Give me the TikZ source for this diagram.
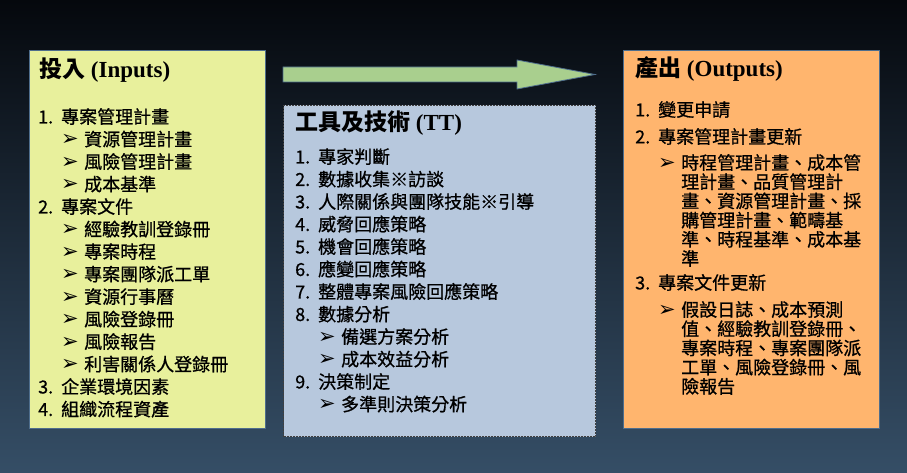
\documentclass[tikz,border=0pt]{standalone}
\usepackage{fontspec}
\setmainfont{Liberation Serif}
\newfontfamily\cjk[FakeBold=0.8]{Noto Sans CJK TC}
\newfontfamily\cjktitle{Noto Sans CJK TC}
\newfontfamily\symfont{DejaVu Sans}

\definecolor{bgtop}{HTML}{05080D}
\definecolor{bgbottom}{HTML}{354E66}
\definecolor{infill}{HTML}{E8F09C}
\definecolor{ttfill}{HTML}{B7C8DD}
\definecolor{outfill}{HTML}{FFB56E}
\definecolor{arrowfill}{HTML}{A9CF8E}
\definecolor{boxline}{HTML}{4E6D8C}

\newcommand{\nr}[1]{\makebox[23pt][l]{#1}}
\newcommand{\subarrow}{\hspace*{23pt}\makebox[23pt][l]{\symfont\fontsize{21}{21}\selectfont ➢}}
\newcommand{\wrapind}{\hspace*{46pt}}

\begin{document}
\begin{tikzpicture}[x=1pt,y=-1pt,
    box/.style={draw=boxline,line width=1.2pt,anchor=north west,inner sep=0pt},
    body/.style={anchor=north west,align=left,inner sep=0pt,font=\cjk\fontsize{18}{22.5}\selectfont},
    title/.style={anchor=west,inner sep=0pt,font=\fontsize{23}{26}\selectfont\bfseries}]
    \useasboundingbox (0,0) rectangle (907,473);
    \fill[top color=bgtop,bottom color=bgbottom] (0,0) rectangle (907,473);

    %boxes
    \node[box,fill=infill,minimum width=236pt,minimum height=378pt] (inputs) at (29,50) {};
    \node[box,fill=ttfill,draw=black!75,line width=1pt,dash pattern=on 2pt off 1pt,
        minimum width=312pt,minimum height=331pt] (tt) at (283,105) {};
    \node[box,fill=outfill,minimum width=256pt,minimum height=378pt] (outputs) at (623,50) {};

    %arrow
    \filldraw[fill=arrowfill,draw=boxline,line width=0.8pt]
        (283,67) -- (517,67) -- (517,60) -- (595,74.5) -- (517,89) -- (517,82) -- (283,82) -- cycle;

    %titles
    \node[title] (intitle) at (39,70) {{\cjktitle 投入} (Inputs)};
    \node[title] (tttitle) at (295,123) {{\cjktitle 工具及技術} (TT)};
    \node[title] (outtitle) at (635,69) {{\cjktitle 產出} (Outputs)};

    %inputs
    \node[body] (inlist) at (38,108) {\nr{1.}專案管理計畫\\
        \subarrow 資源管理計畫\\
        \subarrow 風險管理計畫\\
        \subarrow 成本基準\\
        \nr{2.}專案文件\\
        \subarrow 經驗教訓登錄冊\\
        \subarrow 專案時程\\
        \subarrow 專案團隊派工單\\
        \subarrow 資源行事曆\\
        \subarrow 風險登錄冊\\
        \subarrow 風險報告\\
        \subarrow 利害關係人登錄冊\\
        \nr{3.}企業環境因素\\
        \nr{4.}組織流程資產};

    %tools and techniques
    \node[body] (ttlist) at (295,148) {\nr{1.}專家判斷\\
        \nr{2.}數據收集※訪談\\
        \nr{3.}人際關係與團隊技能※引導\\
        \nr{4.}威脅回應策略\\
        \nr{5.}機會回應策略\\
        \nr{6.}應變回應策略\\
        \nr{7.}整體專案風險回應策略\\
        \nr{8.}數據分析\\
        \subarrow 備選方案分析\\
        \subarrow 成本效益分析\\
        \nr{9.}決策制定\\
        \subarrow 多準則決策分析};

    %outputs
    \node[body,font=\cjk\fontsize{18}{19.2}\selectfont] (outlist) at (635,101) {\nr{1.}變更申請\\[7.8pt]
        \nr{2.}專案管理計畫更新\\[6.8pt]
        \subarrow 時程管理計畫、成本管\\
        \wrapind 理計畫、品質管理計\\
        \wrapind 畫、資源管理計畫、採\\
        \wrapind 購管理計畫、範疇基\\
        \wrapind 準、時程基準、成本基\\
        \wrapind 準\\[4.8pt]
        \nr{3.}專案文件更新\\[7.8pt]
        \subarrow 假設日誌、成本預測\\
        \wrapind 值、經驗教訓登錄冊、\\
        \wrapind 專案時程、專案團隊派\\
        \wrapind 工單、風險登錄冊、風\\
        \wrapind 險報告};
\end{tikzpicture}
\end{document}
